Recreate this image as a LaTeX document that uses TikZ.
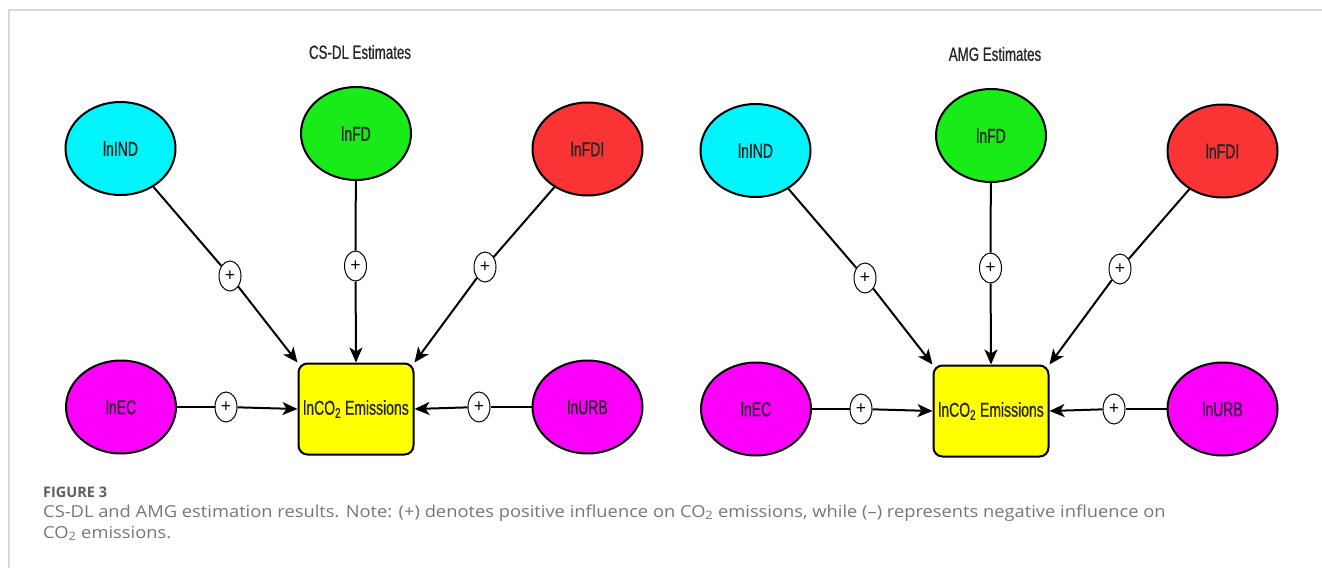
\documentclass[tikz,border=0pt]{standalone}
\usepackage{fontspec}
\setmainfont{Open Sans}
\newfontfamily\narrowfont{Liberation Sans}[FakeStretch=0.7,FakeBold=0.8]
\newfontfamily\capfont{Open Sans}[FakeStretch=1.11]
\usetikzlibrary{
    shapes.geometric,
    arrows.meta,
    positioning
}
\definecolor{indcyan}{RGB}{0,245,250}
\definecolor{fdgreen}{RGB}{25,235,25}
\definecolor{fdired}{RGB}{250,52,52}
\definecolor{ecmagenta}{RGB}{250,0,250}
\definecolor{coyellow}{RGB}{255,255,0}
\definecolor{framegray}{RGB}{215,215,215}
\definecolor{captiongray}{RGB}{118,118,118}
\tikzset{
    varnode/.style = {
        ellipse,
        draw,
        line width=2pt,
        minimum width=110pt,
        minimum height=93pt,
        text=black!85,
        font=\narrowfont\fontsize{20pt}{22pt}\selectfont
    },
    cobox/.style = {
        rectangle,
        rounded corners=9pt,
        draw,
        line width=2pt,
        fill=coyellow,
        minimum width=115pt,
        minimum height=91pt,
        inner sep=1pt,
        text=black!85,
        font=\narrowfont\fontsize{20pt}{22pt}\selectfont
    },
    signnode/.style = {
        ellipse,
        draw,
        line width=1pt,
        fill=white,
        minimum width=22pt,
        minimum height=30pt,
        inner sep=0pt,
        font=\fontsize{18pt}{18pt}\selectfont
    },
    link/.style = {
        line width=2pt
    },
    arrow/.style = {
        -{Stealth[length=15pt,width=13pt,inset=4pt]},
        line width=2pt
    },
    paneltitle/.style = {
        font=\narrowfont\fontsize{19pt}{22pt}\selectfont,
        text=black!85
    }
}

\begin{document}
\begin{tikzpicture}[x=1pt,y=-1pt]
\useasboundingbox (0,0) rectangle (1322,568);
\draw [framegray, line width=1.5pt] (9,568) -- (9,10) -- (1322,10);

\foreach \pre/\dx/\dy/\ttl in {L/0/0/CS-DL Estimates, R/635/2/AMG Estimates} {
\begin{scope}[shift={(\dx,\dy)}]
\node (\pre title) [paneltitle] at (360,52) {\ttl};
\node (\pre ind) [varnode, fill=indcyan] at (120.5,148.5) {lnIND};
\node (\pre fd) [varnode, fill=fdgreen] at (356,133.5) {lnFD};
\node (\pre fdi) [varnode, fill=fdired] at (587.5,149) {lnFDI};
\node (\pre ec) [varnode, fill=ecmagenta] at (121,407) {lnEC};
\node (\pre co) [cobox] at (356,409) {lnCO\textsubscript{2} Emissions};
\node (\pre urb) [varnode, fill=ecmagenta] at (587.5,407) {lnURB};

% signs on the links
\node (\pre sind) [signnode] at (230,276) {+};
\node (\pre sfd) [signnode] at (355.5,266) {+};
\node (\pre sfdi) [signnode] at (485,267) {+};
\node (\pre sec) [signnode] at (226,407) {+};
\node (\pre surb) [signnode] at (479,407) {+};

\draw [link] (\pre ind) -- (\pre sind);
\draw [arrow] (\pre sind) -- (\pre co.north west);
\draw [link] (\pre fd) -- (\pre sfd);
\draw [arrow] (\pre sfd) -- (\pre co.north);
\draw [link] (\pre fdi) -- (\pre sfdi);
\draw [arrow] (\pre sfdi) -- (\pre co.north east);
\draw [link] (\pre ec) -- (\pre sec);
\draw [arrow] (\pre sec) -- (\pre co.west);
\draw [link] (\pre urb) -- (\pre surb);
\draw [arrow] (\pre surb) -- (\pre co.east);
\end{scope}
}

% caption
\node (fignum) [anchor=base west, inner sep=0pt, text=captiongray!80!black,
    font=\fontsize{14.5pt}{16pt}\selectfont\bfseries] at (43,497) {FIGURE 3};
\node (capone) [anchor=base west, inner sep=0pt, text=captiongray,
    font=\capfont\fontsize{16.5pt}{20pt}\selectfont] at (43,517)
    {CS-DL and AMG estimation results. Note: (+) denotes positive influence on CO\textsubscript{2} emissions, while (–) represents negative influence on};
\node (captwo) [anchor=base west, inner sep=0pt, text=captiongray,
    font=\capfont\fontsize{16.5pt}{20pt}\selectfont] at (43,538)
    {CO\textsubscript{2} emissions.};
\end{tikzpicture}
\end{document}
